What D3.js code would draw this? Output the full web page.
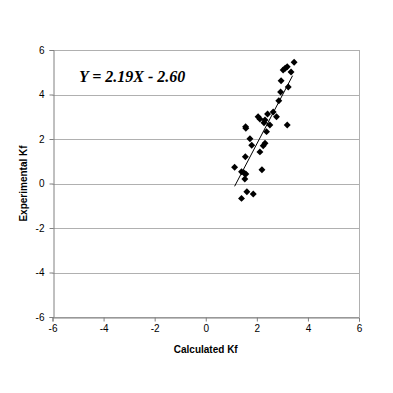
<!DOCTYPE html>
<html>
<head>
<meta charset="utf-8">
<script src="https://cdn.jsdelivr.net/npm/d3@7"></script>
<style>
  body { margin: 0; background: #fff; }
  text { font-family: Arial, "Liberation Sans", sans-serif; }
</style>
</head>
<body>
<script>
// calculated Kf (x) vs experimental Kf (y)
const calcKf = [3.46, 3.19, 3.11, 3.03, 3.34, 2.95, 3.23, 2.93, 2.86, 2.64, 2.42, 2.77,
  2.05, 2.12, 2.32, 2.28, 2.51, 3.19, 1.56, 1.57, 2.38, 1.73, 2.32, 2.25, 1.80, 2.12,
  1.55, 1.13, 2.20, 1.40, 1.57, 1.53, 1.61, 1.86, 1.40, 1.50];
const expKf = [5.45, 5.25, 5.18, 5.10, 5.01, 4.62, 4.34, 4.11, 3.72, 3.21, 3.12, 3.00,
  3.00, 2.90, 2.85, 2.73, 2.63, 2.63, 2.55, 2.48, 2.33, 2.01, 1.81, 1.70, 1.72, 1.42,
  1.20, 0.73, 0.62, 0.53, 0.43, 0.20, -0.37, -0.47, -0.67, 0.47];
const ticks = [-6, -4, -2, 0, 2, 4, 6];
const slope = 2.19, intercept = -2.60;
const fitRange = [1.13, 3.40];

const width = 393, height = 393;
const svg = d3.select("body").append("svg").attr("width", width).attr("height", height);

const x = d3.scaleLinear().domain([-6, 6]).range([52.5, 359]);
const y = d3.scaleLinear().domain([-6, 6]).range([317, 50]);

// grid
svg.append("g").selectAll("line")
  .data(ticks).enter()
  .append("line")
  .attr("x1", x(-6)).attr("x2", x(6))
  .attr("y1", d => Math.round(y(d)) + 0.5).attr("y2", d => Math.round(y(d)) + 0.5)
  .style("stroke", "#b0b0b0");
svg.append("line")
  .attr("x1", Math.round(x(6)) + 0.5).attr("x2", Math.round(x(6)) + 0.5)
  .attr("y1", y(6)).attr("y2", y(-6))
  .style("stroke", "#b0b0b0");

// axes (plain hyphen for negatives, like the original)
const fmt = d => String(d);
const xAxis = svg.append("g")
  .attr("transform", `translate(0,${Math.round(y(-6)) + 0.5})`)
  .call(d3.axisBottom(x).tickValues(ticks).tickSize(4).tickPadding(3).tickFormat(fmt));
const yAxis = svg.append("g")
  .attr("transform", `translate(${Math.round(x(-6)) + 0.5},0)`)
  .call(d3.axisLeft(y).tickValues(ticks).tickSize(4).tickPadding(5).tickFormat(fmt));
[xAxis, yAxis].forEach(g => {
  g.select(".domain").style("stroke", "#808080");
  g.selectAll(".tick line").style("stroke", "#808080");
  g.selectAll(".tick text").style("font-size", "10px").style("fill", "#000")
    .style("font-family", "Arial, 'Liberation Sans', sans-serif");
});

// regression line
svg.append("line")
  .attr("x1", x(fitRange[0])).attr("y1", y(slope * fitRange[0] + intercept))
  .attr("x2", x(fitRange[1])).attr("y2", y(slope * fitRange[1] + intercept))
  .style("stroke", "#000").style("stroke-width", 1);

// points
const diamond = d3.symbol(d3.symbolSquare, 24);
svg.append("g").selectAll("path")
  .data(calcKf).enter()
  .append("path")
  .attr("d", diamond)
  .attr("transform", (d, i) => `translate(${x(d)},${y(expKf[i])}) rotate(45)`)
  .style("fill", "#000");

// labels
svg.append("text")
  .attr("x", 79).attr("y", 82)
  .style("font-family", "'Liberation Serif', 'Times New Roman', serif")
  .style("font-style", "italic").style("font-weight", "bold").style("font-size", "16px")
  .text(`Y = ${slope.toFixed(2)}X - ${Math.abs(intercept).toFixed(2)}`);

svg.append("text")
  .attr("x", (x(-6) + x(6)) / 2).attr("y", 353)
  .attr("text-anchor", "middle")
  .style("font-weight", "bold").style("font-size", "10px")
  .text("Calculated Kf");

svg.append("text")
  .attr("transform", `translate(27,${(y(-6) + y(6)) / 2}) rotate(-90)`)
  .attr("text-anchor", "middle")
  .style("font-weight", "bold").style("font-size", "10px")
  .text("Experimental Kf");
</script>
</body>
</html>
